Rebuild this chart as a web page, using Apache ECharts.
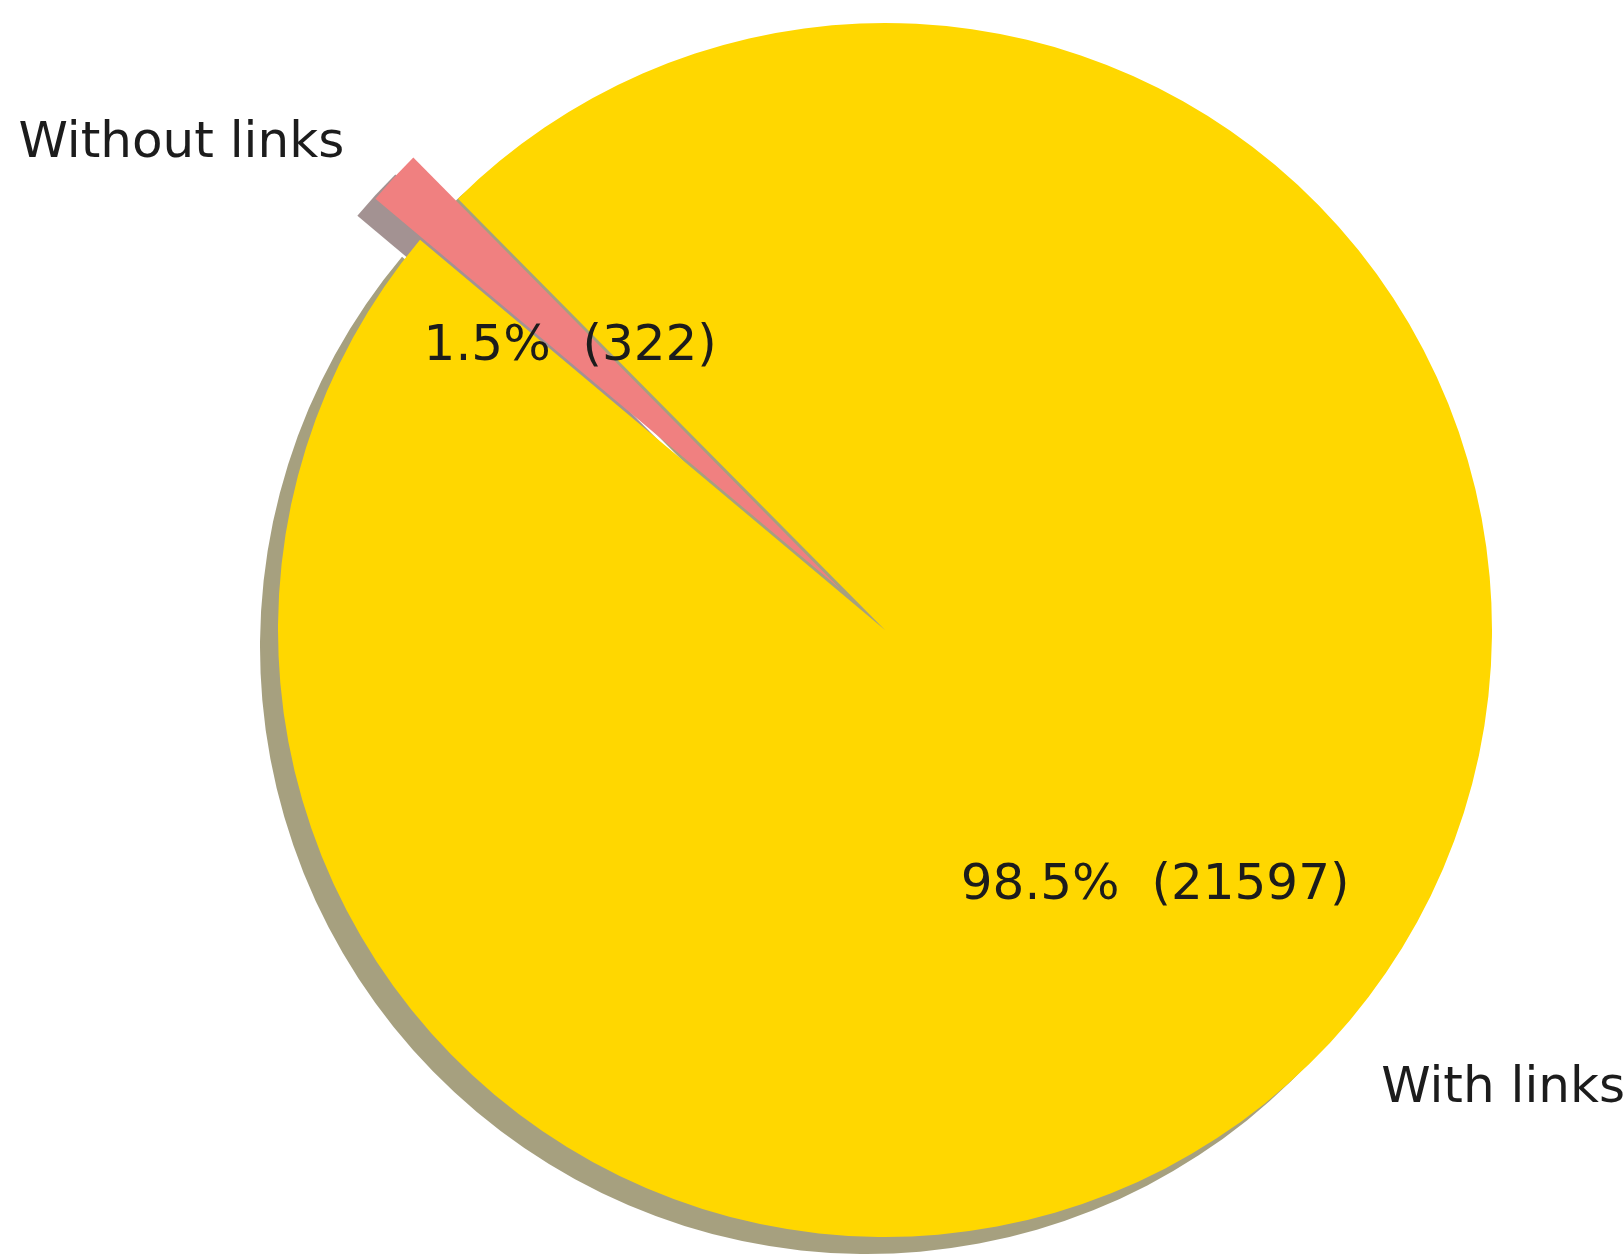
<!DOCTYPE html>
<html>
<head>
<meta charset="utf-8">
<script src="https://cdn.jsdelivr.net/npm/echarts@6/dist/echarts.min.js"></script>
<style>
  html, body { margin: 0; padding: 0; background: #ffffff; }
  #chart { width: 1624px; height: 1260px; }
</style>
</head>
<body>
<div id="chart"></div>
<script>
// Link coverage of the records
const categories = ['With links', 'Without links'];
const counts = [21597, 322];
const sliceColors = ['#FFD700', '#F08080'];
const shadowColors = ['rgba(77,65,0,0.5)', 'rgba(72,38,38,0.5)'];
const explodedIndex = 1;

const total = counts.reduce((a, b) => a + b, 0);
const FONT = '"DejaVu Sans", sans-serif';

const CX = 885, CY = 630, R = 607;
const EXPLODE = 0.1 * R;

function buildData(colors) {
  return categories.map((name, i) => {
    const style = { color: colors[i], borderWidth: 0 };
    return {
      name: name,
      value: counts[i],
      selected: i === explodedIndex,
      itemStyle: style,
      select: { itemStyle: style }
    };
  });
}

const common = {
  type: 'pie',
  startAngle: 140,
  clockwise: false,
  selectedMode: 'single',
  selectedOffset: EXPLODE,
  avoidLabelOverlap: false,
  silent: true,
  animation: false,
  emphasis: { disabled: true },
  itemStyle: { borderWidth: 0 }
};

// text sits a little below the anchor point
const rich = {
  t: {
    fontFamily: FONT,
    fontSize: 50,
    color: '#1c1c1c',
    padding: [14, 0, 0, 0]
  }
};

const chart = echarts.init(document.getElementById('chart'), null, { renderer: 'canvas' });

chart.setOption({
  backgroundColor: '#ffffff',
  series: [
    // drop shadow underneath every wedge
    Object.assign({}, common, {
      center: [CX - 18, CY + 17],
      radius: [0, R],
      label: { show: false },
      labelLine: { show: false },
      data: buildData(shadowColors)
    }),
    // wedges with their category names outside
    Object.assign({}, common, {
      center: [CX, CY],
      radius: [0, R],
      label: {
        show: true,
        position: 'outside',
        formatter: '{t|{b}}',
        overflow: 'none',
        fontFamily: FONT,
        fontSize: 50,
        rich: rich
      },
      labelLine: { show: false, length: 0.1 * R, length2: 0 },
      data: buildData(sliceColors)
    }),
    // percentage and count labels at 0.6 of the radius
    Object.assign({}, common, {
      center: [CX, CY],
      radius: [0.2 * R, R],
      label: {
        show: true,
        position: 'inner',
        fontFamily: FONT,
        fontSize: 50,
        rich: rich,
        formatter: p => '{t|' + (p.value / total * 100).toFixed(1) + '%  (' + p.value + ')}'
      },
      labelLine: { show: false },
      data: buildData(['rgba(0,0,0,0)', 'rgba(0,0,0,0)'])
    })
  ]
});
</script>
</body>
</html>
